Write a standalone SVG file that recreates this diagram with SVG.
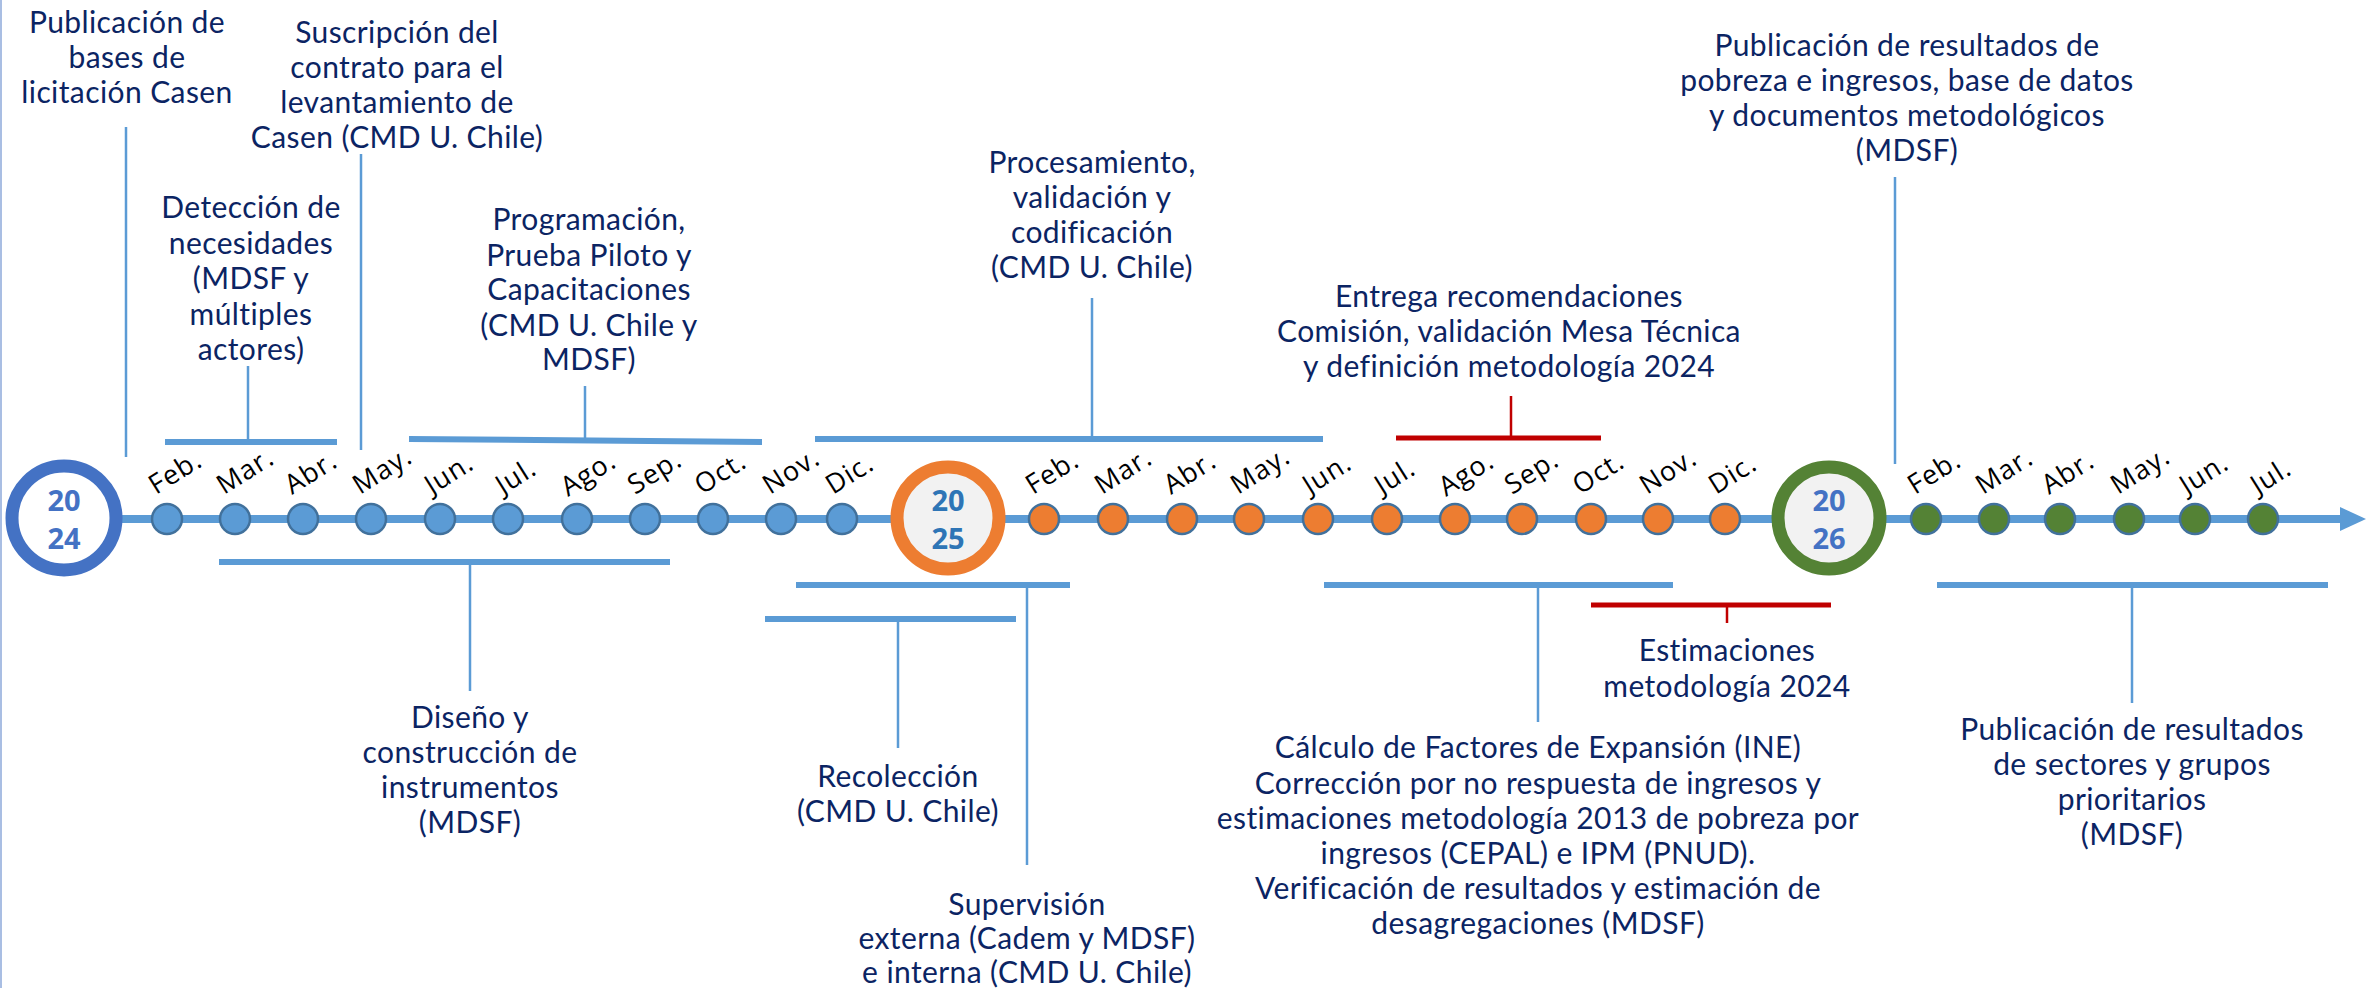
<svg xmlns="http://www.w3.org/2000/svg" width="2366" height="988" viewBox="0 0 2366 988">
<style>
.lbl{font-family:Lato,"Open Sans","Liberation Sans",sans-serif;font-size:30px;letter-spacing:0.4px;fill:#0B2463;text-anchor:middle}
.mon{font-family:"Open Sans","Noto Sans","Liberation Sans",sans-serif;font-size:27px;letter-spacing:1px;fill:#000}
.yr{font-family:"Open Sans","Liberation Sans",sans-serif;font-size:29px;font-weight:bold;text-anchor:middle}
.vl{stroke:#5B9BD5;stroke-width:2.5;fill:none}
.br{stroke:#5B9BD5;stroke-width:6;fill:none}
.rvl{stroke:#C00000;stroke-width:2.5;fill:none}
.rbr{stroke:#C00000;stroke-width:5;fill:none}
.db{fill:#5B9BD5;stroke:#41719C;stroke-width:2.5}
.do{fill:#ED7D31;stroke:#41719C;stroke-width:2.5}
.dg{fill:#548235;stroke:#41719C;stroke-width:2.5}
</style>
<rect width="2366" height="988" fill="#fff"/>
<line x1="1" y1="0" x2="1" y2="988" stroke="#A9BEE3" stroke-width="2"/>

<g id="axis">
<line x1="63" y1="519" x2="2342" y2="519" stroke="#5B9BD5" stroke-width="8"/>
<polygon points="2340,507 2366,519 2340,531" fill="#5B9BD5"/>
</g>

<g id="connectors">
<line class="vl" x1="126" y1="127" x2="126" y2="457"/>
<line class="vl" x1="361" y1="154" x2="361" y2="450"/>
<line class="vl" x1="248" y1="366" x2="248" y2="440"/>
<line class="br" x1="165" y1="442" x2="337" y2="442"/>
<line class="vl" x1="585" y1="386" x2="585" y2="440"/>
<line class="br" x1="409" y1="439" x2="762" y2="442"/>
<line class="vl" x1="1092" y1="298" x2="1092" y2="437"/>
<line class="br" x1="815" y1="439" x2="1323" y2="439"/>
<line class="rvl" x1="1511" y1="396" x2="1511" y2="436"/>
<line class="rbr" x1="1396" y1="438" x2="1601" y2="438"/>
<line class="vl" x1="1895" y1="177" x2="1895" y2="464"/>
<line class="br" x1="219" y1="562" x2="670" y2="562"/>
<line class="vl" x1="470" y1="562" x2="470" y2="691"/>
<line class="br" x1="796" y1="585" x2="1070" y2="585"/>
<line class="vl" x1="1027" y1="585" x2="1027" y2="865"/>
<line class="br" x1="765" y1="619" x2="1016" y2="619"/>
<line class="vl" x1="898" y1="619" x2="898" y2="748"/>
<line class="br" x1="1324" y1="585" x2="1673" y2="585"/>
<line class="vl" x1="1538" y1="585" x2="1538" y2="722"/>
<line class="rbr" x1="1591" y1="605" x2="1831" y2="605"/>
<line class="rvl" x1="1727" y1="605" x2="1727" y2="623"/>
<line class="br" x1="1937" y1="585" x2="2328" y2="585"/>
<line class="vl" x1="2132" y1="585" x2="2132" y2="703"/>
</g>

<g id="y2024"><circle cx="64" cy="518" r="52" fill="#fff" stroke="#4472C4" stroke-width="13"/><text class="yr" x="64" y="511" fill="#4472C4">20</text><text class="yr" x="64" y="549" fill="#4472C4">24</text></g>
<g id="y2025"><circle cx="948" cy="518" r="51" fill="#F2F2F2" stroke="#ED7D31" stroke-width="13"/><text class="yr" x="948" y="511" fill="#2E75B6">20</text><text class="yr" x="948" y="549" fill="#2E75B6">25</text></g>
<g id="y2026"><circle cx="1829" cy="518" r="51" fill="#F2F2F2" stroke="#548235" stroke-width="13"/><text class="yr" x="1829" y="511" fill="#4472C4">20</text><text class="yr" x="1829" y="549" fill="#4472C4">26</text></g>

<g id="months2024">
<g id="m24-02"><circle class="db" cx="167" cy="519" r="15"/><text class="mon" transform="translate(156,495) rotate(-32)">Feb.</text></g>
<g id="m24-03"><circle class="db" cx="235" cy="519" r="15"/><text class="mon" transform="translate(224,495) rotate(-32)">Mar.</text></g>
<g id="m24-04"><circle class="db" cx="303" cy="519" r="15"/><text class="mon" transform="translate(292,495) rotate(-32)">Abr.</text></g>
<g id="m24-05"><circle class="db" cx="371" cy="519" r="15"/><text class="mon" transform="translate(360,495) rotate(-32)">May.</text></g>
<g id="m24-06"><circle class="db" cx="440" cy="519" r="15"/><text class="mon" transform="translate(432,495) rotate(-32)">Jun.</text></g>
<g id="m24-07"><circle class="db" cx="508" cy="519" r="15"/><text class="mon" transform="translate(503,495) rotate(-32)">Jul.</text></g>
<g id="m24-08"><circle class="db" cx="577" cy="519" r="15"/><text class="mon" transform="translate(568,497) rotate(-32)">Ago.</text></g>
<g id="m24-09"><circle class="db" cx="645" cy="519" r="15"/><text class="mon" transform="translate(635,495) rotate(-32)">Sep.</text></g>
<g id="m24-10"><circle class="db" cx="713" cy="519" r="15"/><text class="mon" transform="translate(702,495) rotate(-32)">Oct.</text></g>
<g id="m24-11"><circle class="db" cx="781" cy="519" r="15"/><text class="mon" transform="translate(770,495) rotate(-32)">Nov.</text></g>
<g id="m24-12"><circle class="db" cx="842" cy="519" r="15"/><text class="mon" transform="translate(833,495) rotate(-32)">Dic.</text></g>
</g>
<g id="months2025">
<g id="m25-02"><circle class="do" cx="1044" cy="519" r="15"/><text class="mon" transform="translate(1033,495) rotate(-32)">Feb.</text></g>
<g id="m25-03"><circle class="do" cx="1113" cy="519" r="15"/><text class="mon" transform="translate(1102,495) rotate(-32)">Mar.</text></g>
<g id="m25-04"><circle class="do" cx="1182" cy="519" r="15"/><text class="mon" transform="translate(1171,495) rotate(-32)">Abr.</text></g>
<g id="m25-05"><circle class="do" cx="1249" cy="519" r="15"/><text class="mon" transform="translate(1238,495) rotate(-32)">May.</text></g>
<g id="m25-06"><circle class="do" cx="1318" cy="519" r="15"/><text class="mon" transform="translate(1310,495) rotate(-32)">Jun.</text></g>
<g id="m25-07"><circle class="do" cx="1387" cy="519" r="15"/><text class="mon" transform="translate(1382,495) rotate(-32)">Jul.</text></g>
<g id="m25-08"><circle class="do" cx="1455" cy="519" r="15"/><text class="mon" transform="translate(1446,497) rotate(-32)">Ago.</text></g>
<g id="m25-09"><circle class="do" cx="1522" cy="519" r="15"/><text class="mon" transform="translate(1512,495) rotate(-32)">Sep.</text></g>
<g id="m25-10"><circle class="do" cx="1591" cy="519" r="15"/><text class="mon" transform="translate(1580,495) rotate(-32)">Oct.</text></g>
<g id="m25-11"><circle class="do" cx="1658" cy="519" r="15"/><text class="mon" transform="translate(1647,495) rotate(-32)">Nov.</text></g>
<g id="m25-12"><circle class="do" cx="1725" cy="519" r="15"/><text class="mon" transform="translate(1716,495) rotate(-32)">Dic.</text></g>
</g>
<g id="months2026">
<g id="m26-02"><circle class="dg" cx="1926" cy="519" r="15"/><text class="mon" transform="translate(1915,495) rotate(-32)">Feb.</text></g>
<g id="m26-03"><circle class="dg" cx="1994" cy="519" r="15"/><text class="mon" transform="translate(1983,495) rotate(-32)">Mar.</text></g>
<g id="m26-04"><circle class="dg" cx="2060" cy="519" r="15"/><text class="mon" transform="translate(2049,495) rotate(-32)">Abr.</text></g>
<g id="m26-05"><circle class="dg" cx="2129" cy="519" r="15"/><text class="mon" transform="translate(2118,495) rotate(-32)">May.</text></g>
<g id="m26-06"><circle class="dg" cx="2195" cy="519" r="15"/><text class="mon" transform="translate(2187,495) rotate(-32)">Jun.</text></g>
<g id="m26-07"><circle class="dg" cx="2263" cy="519" r="15"/><text class="mon" transform="translate(2258,495) rotate(-32)">Jul.</text></g>
</g>

<g id="n-publicacion-bases"><text class="lbl"><tspan x="127" y="33">Publicación de</tspan><tspan x="127" y="68">bases de</tspan><tspan x="127" y="103">licitación Casen</tspan></text></g>
<g id="n-suscripcion"><text class="lbl"><tspan x="397" y="43">Suscripción del</tspan><tspan x="397" y="78">contrato para el</tspan><tspan x="397" y="113">levantamiento de</tspan><tspan x="397" y="148">Casen (CMD U. Chile)</tspan></text></g>
<g id="n-deteccion"><text class="lbl"><tspan x="251" y="218">Detección de</tspan><tspan x="251" y="254">necesidades</tspan><tspan x="251" y="289">(MDSF y</tspan><tspan x="251" y="325">múltiples</tspan><tspan x="251" y="360">actores)</tspan></text></g>
<g id="n-programacion"><text class="lbl"><tspan x="589" y="230">Programación,</tspan><tspan x="589" y="266">Prueba Piloto y</tspan><tspan x="589" y="300">Capacitaciones</tspan><tspan x="589" y="336">(CMD U. Chile y</tspan><tspan x="589" y="370">MDSF)</tspan></text></g>
<g id="n-procesamiento"><text class="lbl"><tspan x="1092" y="173">Procesamiento,</tspan><tspan x="1092" y="208">validación y</tspan><tspan x="1092" y="243">codificación</tspan><tspan x="1092" y="278">(CMD U. Chile)</tspan></text></g>
<g id="n-entrega"><text class="lbl"><tspan x="1509" y="307">Entrega recomendaciones</tspan><tspan x="1509" y="342">Comisión, validación Mesa Técnica</tspan><tspan x="1509" y="377">y definición metodología 2024</tspan></text></g>
<g id="n-publicacion-pobreza"><text class="lbl"><tspan x="1907" y="56">Publicación de resultados de</tspan><tspan x="1907" y="91">pobreza e ingresos, base de datos</tspan><tspan x="1907" y="126">y documentos metodológicos</tspan><tspan x="1907" y="161">(MDSF)</tspan></text></g>
<g id="n-diseno"><text class="lbl"><tspan x="470" y="728">Diseño y</tspan><tspan x="470" y="763">construcción de</tspan><tspan x="470" y="798">instrumentos</tspan><tspan x="470" y="833">(MDSF)</tspan></text></g>
<g id="n-recoleccion"><text class="lbl"><tspan x="898" y="787">Recolección</tspan><tspan x="898" y="822">(CMD U. Chile)</tspan></text></g>
<g id="n-supervision"><text class="lbl"><tspan x="1027" y="915">Supervisión</tspan><tspan x="1027" y="949">externa (Cadem y MDSF)</tspan><tspan x="1027" y="983">e interna (CMD U. Chile)</tspan></text></g>
<g id="n-calculo"><text class="lbl"><tspan x="1538" y="758">Cálculo de Factores de Expansión (INE)</tspan><tspan x="1538" y="794">Corrección por no respuesta de ingresos y</tspan><tspan x="1538" y="829">estimaciones metodología 2013 de pobreza por</tspan><tspan x="1538" y="864">ingresos (CEPAL) e IPM (PNUD).</tspan><tspan x="1538" y="899">Verificación de resultados y estimación de</tspan><tspan x="1538" y="934">desagregaciones (MDSF)</tspan></text></g>
<g id="n-estimaciones"><text class="lbl"><tspan x="1727" y="661">Estimaciones</tspan><tspan x="1727" y="697">metodología 2024</tspan></text></g>
<g id="n-publicacion-sectores"><text class="lbl"><tspan x="2132" y="740">Publicación de resultados</tspan><tspan x="2132" y="775">de sectores y grupos</tspan><tspan x="2132" y="810">prioritarios</tspan><tspan x="2132" y="845">(MDSF)</tspan></text></g>
</svg>
